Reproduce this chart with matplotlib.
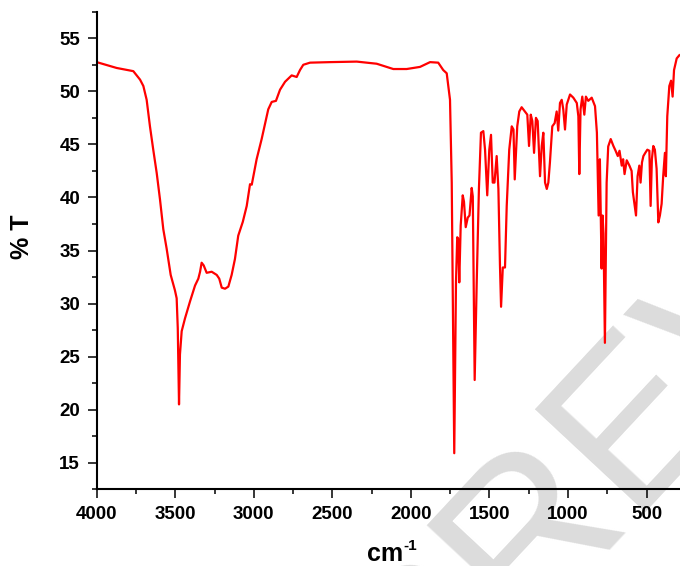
import matplotlib.pyplot as plt
import numpy as np

# 字体: Arial 的替代
plt.rcParams['font.family'] = ['Liberation Sans', 'DejaVu Sans']

# --- 数据 ---
wavenumber = [4000, 3873, 3767, 3724, 3703, 3682, 3661, 3640, 3618, 3597,
              3576, 3555, 3529, 3502, 3491, 3484, 3476, 3470, 3459, 3438,
              3406, 3374, 3353, 3342, 3332, 3319, 3300, 3268, 3236, 3220,
              3204, 3183, 3162, 3141, 3120, 3099, 3070, 3045, 3024, 3013,
              2982, 2950, 2908, 2886, 2859, 2833, 2801, 2759, 2727, 2706,
              2685, 2642, 2515, 2345, 2218, 2112, 2027, 1942, 1878, 1826,
              1794, 1772, 1751, 1740, 1730, 1724, 1713, 1705, 1699, 1692,
              1683, 1670, 1662, 1651, 1638, 1627, 1613, 1606, 1598, 1594,
              1581, 1567, 1554, 1539, 1528, 1514, 1501, 1490, 1479, 1468,
              1454, 1443, 1433, 1426, 1415, 1401, 1390, 1374, 1358, 1347,
              1339, 1323, 1310, 1295, 1274, 1259, 1248, 1237, 1227, 1216,
              1204, 1193, 1178, 1167, 1157, 1146, 1135, 1125, 1115, 1100,
              1085, 1072, 1062, 1051, 1040, 1030, 1019, 1008, 987, 966,
              944, 934, 928, 920, 909, 896, 886, 871, 849, 828,
              816, 805, 797, 791, 786, 780, 774, 765, 754, 744,
              728, 711, 697, 683, 672, 658, 649, 640, 626, 609,
              595, 587, 567, 557, 546, 538, 529, 520, 508, 495,
              482, 474, 466, 457, 447, 436, 425, 415, 404, 394,
              383, 377, 368, 355, 344, 334, 325, 308, 291]
transmittance = [52.75, 52.2, 51.9, 51.1, 50.5, 49.2, 46.7, 44.5, 42.3, 39.8,
                 37.0, 35.2, 32.7, 31.25, 30.5, 27.7, 20.5, 25.2, 27.4, 28.6,
                 30.2, 31.7, 32.35, 33.0, 33.85, 33.6, 32.9, 33.0, 32.7, 32.35,
                 31.5, 31.4, 31.6, 32.7, 34.2, 36.4, 37.7, 39.2, 41.25, 41.2,
                 43.6, 45.5, 48.3, 49.0, 49.1, 50.15, 50.9, 51.5, 51.35, 52.0,
                 52.5, 52.7, 52.75, 52.8, 52.6, 52.1, 52.1, 52.3, 52.75, 52.7,
                 52.0, 51.7, 49.2, 41.4, 25.8, 15.9, 32.0, 36.25, 36.1, 32.0,
                 37.35, 40.2, 39.6, 37.2, 38.1, 38.3, 40.9, 40.1, 28.9, 22.8,
                 32.0, 40.8, 46.1, 46.25, 44.5, 40.2, 44.5, 45.9, 41.4, 41.4,
                 43.9, 40.8, 33.6, 29.7, 33.4, 33.4, 39.2, 44.5, 46.7, 46.4,
                 41.7, 46.7, 48.1, 48.5, 48.1, 47.8, 44.85, 47.8, 47.2, 44.2,
                 47.5, 47.2, 42.0, 44.85, 46.1, 41.4, 40.8, 41.4, 43.3, 46.7,
                 47.0, 48.1, 46.3, 48.9, 49.2, 48.3, 46.4, 48.75, 49.7, 49.4,
                 48.9, 47.65, 42.2, 48.3, 49.5, 47.8, 49.5, 49.1, 49.4, 48.6,
                 46.1, 38.3, 43.6, 38.3, 33.3, 38.3, 36.6, 26.3, 41.4, 44.8,
                 45.5, 44.85, 44.4, 43.9, 44.4, 43.0, 43.6, 42.2, 43.5, 43.0,
                 42.5, 40.5, 38.3, 42.0, 43.0, 41.4, 43.3, 43.9, 44.2, 44.5,
                 44.4, 39.2, 43.6, 44.85, 44.5, 42.7, 37.65, 38.3, 39.4, 42.0,
                 44.2, 42.0, 47.65, 50.5, 51.0, 49.5, 52.0, 53.1, 53.4]

x_ticks = [4000, 3500, 3000, 2500, 2000, 1500, 1000, 500]
y_ticks = [15, 20, 25, 30, 35, 40, 45, 50, 55]

# --- 绘图 ---
fig = plt.figure(figsize=(6.8, 5.66), dpi=100)
ax = fig.add_axes([0.1422, 0.1355, 0.8578, 0.8438])

# 水印 (右下角, 大部分被裁掉)
fig.text(420 / 680, (566 - 735) / 566, 'PREVIEW', fontsize=158,
         color='#dcdcdc', rotation=47, rotation_mode='anchor',
         ha='left', va='baseline', family='Liberation Sans', zorder=0)
ax.set_zorder(1)
ax.patch.set_alpha(0)

ax.plot(wavenumber, transmittance, color='red', linewidth=1.6)

ax.set_xlim(4000, 287)
ax.set_ylim(12.5, 57.5)
ax.set_xticks(x_ticks)
ax.set_yticks(y_ticks)
ax.set_xticks(np.arange(3750, 287, -500), minor=True)
ax.set_yticks(np.arange(12.5, 57.6, 5), minor=True)

for side in ['top', 'right']:
    ax.spines[side].set_visible(False)
for side in ['left', 'bottom']:
    ax.spines[side].set_linewidth(1.5)

ax.tick_params(which='major', direction='out', length=6.5, width=1.1,
               labelsize=13.5, pad=5.5)
ax.tick_params(which='minor', direction='out', length=3.6, width=1.1)
for lab in ax.get_xticklabels() + ax.get_yticklabels():
    lab.set_fontweight('bold')

fig.text(22 / 680, 329 / 566, '% T', rotation=90, ha='center', va='center',
         fontsize=18, fontweight='bold')
fig.text(367 / 680, 5 / 566, 'cm', ha='left', va='baseline',
         fontsize=18, fontweight='bold')
fig.text(403 / 680, 16 / 566, '-1', ha='left', va='baseline',
         fontsize=11, fontweight='bold')

fig.savefig('out.png', dpi=100)
